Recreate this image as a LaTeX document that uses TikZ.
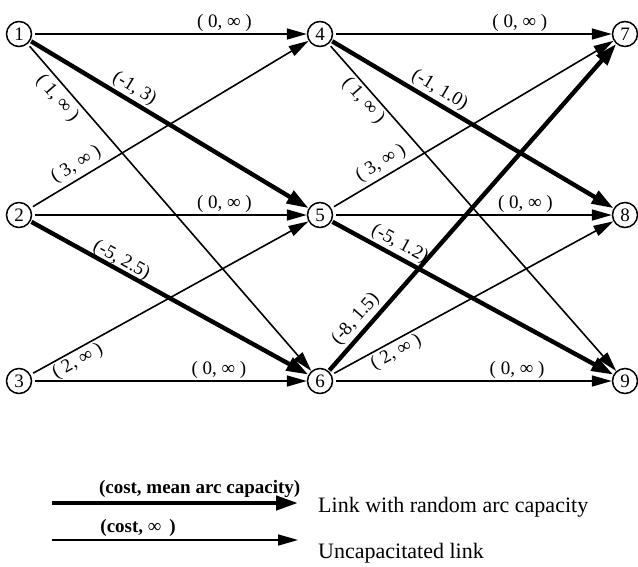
\documentclass[tikz,border=0pt]{standalone}
\usepackage{fontspec}
\setmainfont{Liberation Serif}
\usetikzlibrary{arrows.meta}
\begin{document}
\begin{tikzpicture}[x=1pt,y=-1pt,
  vtx/.style={circle,draw,line width=1.5pt,minimum size=25pt,inner sep=0pt,font=\fontsize{19}{19}\selectfont},
  thinarc/.style={line width=1.6pt,-{Triangle[length=20pt,width=11pt]},shorten <=3pt},
  thickarc/.style={line width=4.4pt,-{Triangle[length=22pt,width=14pt]},shorten <=1pt},
  lbl/.style={font=\fontsize{19}{19}\selectfont,inner sep=1pt},
  blbl/.style={font=\fontsize{19}{19}\selectfont\bfseries,inner sep=1pt},
  legtext/.style={font=\fontsize{22}{22}\selectfont,anchor=west,inner sep=0pt},
]
\useasboundingbox (0,0) rectangle (638,566);
\node[vtx] (n1) at (19,34) {1};
\node[vtx] (n2) at (19,215) {2};
\node[vtx] (n3) at (19,381) {3};
\node[vtx] (n4) at (320,34) {4};
\node[vtx] (n5) at (320,215) {5};
\node[vtx] (n6) at (320,381) {6};
\node[vtx] (n7) at (625,34) {7};
\node[vtx] (n8) at (625,215) {8};
\node[vtx] (n9) at (625,381) {9};

% column 1 -> column 2
\draw[thinarc] (n1) -- node[lbl,pos=0.70,above=1pt] {( 0, ∞ )} (n4);
\draw[thickarc] (n1) -- node[lbl,sloped,pos=0.35,above=1pt] {(-1, 3)} (n5);
\draw[thinarc] (n1) -- node[lbl,sloped,pos=0.14,below=3pt] {( 1, ∞ )} (n6);
\draw[thinarc] (n2) -- node[lbl,sloped,pos=0.19,above=3pt] {( 3, ∞ )} (n4);
\draw[thinarc] (n2) -- node[lbl,pos=0.70,above=1pt] {( 0, ∞ )} (n5);
\draw[thickarc] (n2) -- node[lbl,sloped,pos=0.31,above=-2pt] {(-5, 2.5)} (n6);
\draw[thinarc] (n3) -- node[lbl,sloped,pos=0.15,below=1pt] {( 2, ∞ )} (n5);
\draw[thinarc] (n3) -- node[lbl,pos=0.68,above=1pt] {( 0, ∞ )} (n6);

% column 2 -> column 3
\draw[thinarc] (n4) -- node[lbl,pos=0.67,above=1pt] {( 0, ∞ )} (n7);
\draw[thickarc] (n4) -- node[lbl,sloped,pos=0.36,above=1pt] {(-1, 1.0)} (n8);
\draw[thinarc] (n4) -- node[lbl,sloped,pos=0.15,below=1pt] {( 1, ∞ )} (n9);
\draw[thinarc] (n5) -- node[lbl,sloped,pos=0.20,above=3pt] {( 3, ∞ )} (n7);
\draw[thinarc] (n5) -- node[lbl,pos=0.69,above=1pt] {( 0, ∞ )} (n8);
\draw[thickarc] (n5) -- node[lbl,sloped,pos=0.22,above=1pt] {(-5, 1.2)} (n9);
\draw[thickarc] (n6) -- node[lbl,sloped,pos=0.13,above=2pt] {(-8, 1.5)} (n7);
\draw[thinarc] (n6) -- node[lbl,sloped,pos=0.21,below=1pt] {( 2, ∞ )} (n8);
\draw[thinarc] (n6) -- node[lbl,pos=0.66,above=1pt] {( 0, ∞ )} (n9);

% legend
\coordinate (a1) at (52,503);
\coordinate (b1) at (298,503);
\coordinate (a2) at (52,540);
\coordinate (b2) at (298,540);
\draw[thickarc,shorten <=0pt] (a1) -- node[blbl,pos=0.6,above=2pt] {(cost, mean arc capacity)} (b1);
\draw[thinarc,shorten <=0pt] (a2) -- node[blbl,pos=0.35,above=2pt] {(cost, {\mdseries ∞}\, )} (b2);
\node[legtext] (t1) at (318,507) {Link with random arc capacity};
\node[legtext] (t2) at (318,553) {Uncapacitated link};
\end{tikzpicture}
\end{document}
